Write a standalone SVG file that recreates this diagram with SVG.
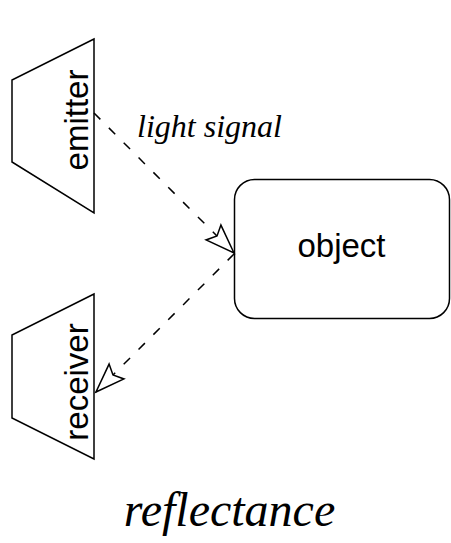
<svg xmlns="http://www.w3.org/2000/svg" width="451" height="543" viewBox="0 0 451 543">
  <style>
    .shape { fill: #fff; stroke: #000; stroke-width: 1.5; stroke-linejoin: miter; }
    .sans { font-family: "Liberation Sans", Arial, sans-serif; font-size: 33px; fill: #000; }
    .serif-i { font-family: "Liberation Serif", "Times New Roman", serif; font-style: italic; fill: #000; }
    .signal { fill: none; stroke: #000; stroke-width: 1.5; stroke-dasharray: 9 12; }
  </style>
  <defs>
    <marker id="head" markerUnits="userSpaceOnUse" viewBox="-31 -12 33 24" refX="0" refY="0" markerWidth="33" markerHeight="24" orient="auto" overflow="visible">
      <path d="M0,0 L-29,-10.5 L-24,0 L-29,10.5 Z" fill="#fff" stroke="#000" stroke-width="1.5" stroke-linejoin="miter"/>
    </marker>
  </defs>

  <g id="emitter">
    <polygon class="shape" points="94,39 12,80 12,162 94,213"/>
    <text class="sans" transform="translate(88,120) rotate(-90)" text-anchor="middle">emitter</text>
  </g>

  <g id="receiver">
    <polygon class="shape" points="94,294 12,335 12,418 94,459"/>
    <text class="sans" transform="translate(88,382) rotate(-90)" text-anchor="middle">receiver</text>
  </g>

  <g id="object">
    <rect class="shape" x="234.5" y="179.5" width="215" height="139" rx="20" ry="20"/>
    <text class="sans" x="341.5" y="257" text-anchor="middle">object</text>
  </g>

  <g id="connectors">
    <line class="signal" x1="94" y1="113" x2="234" y2="253" marker-end="url(#head)"/>
    <line class="signal" x1="234" y1="254" x2="96" y2="392" marker-end="url(#head)"/>
    <text class="serif-i" x="137" y="137" font-size="32">light signal</text>
  </g>

  <text class="serif-i" x="229.5" y="526" font-size="48" text-anchor="middle">reflectance</text>
</svg>
